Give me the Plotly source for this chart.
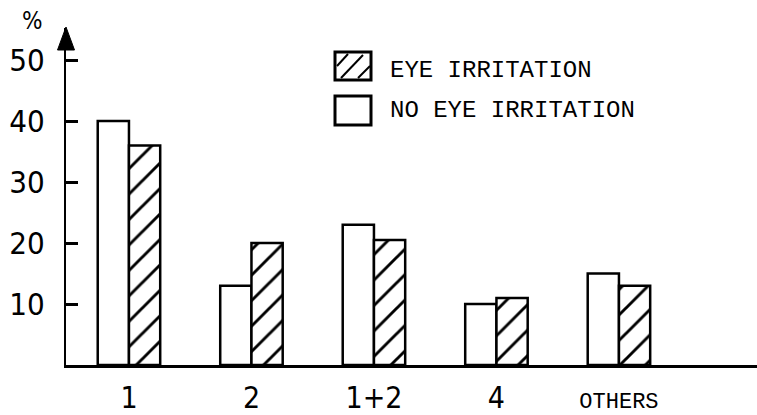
import plotly.graph_objects as go

# ---- data ----
categories = ["1", "2", "1+2", "4", "OTHERS"]
no_eye_irritation = [40, 13, 23, 10, 15]
eye_irritation = [36, 20, 20.5, 11, 13]
series_names = ["EYE IRRITATION", "NO EYE IRRITATION"]
y_ticks = [10, 20, 30, 40, 50]
y_unit_label = "%"

# ---- geometry helpers (figure pixels -> paper coords) ----
W, H = 757, 415
ML, MR, MT, MB = 66, 0, 28, 50
PW, PH = W - ML - MR, H - MT - MB


def px(xp):
    return (xp - ML) / PW


def py(yp):
    return (H - MB - yp) / PH


NUM_FONT = "Liberation Sans Narrow, DejaVu Sans Condensed, Liberation Sans, sans-serif"
TXT_FONT = "Liberation Mono, DejaVu Sans Mono, monospace"

fig = go.Figure()
fig.add_trace(go.Bar(
    x=categories, y=no_eye_irritation, name=series_names[1],
    marker=dict(color="white", line=dict(color="black", width=2.5)),
    showlegend=False,
))
fig.add_trace(go.Bar(
    x=categories, y=eye_irritation, name=series_names[0],
    marker=dict(color="white", line=dict(color="black", width=2.5),
                pattern=dict(shape="/", fgcolor="black", bgcolor="white",
                             size=18, solidity=0.16)),
    showlegend=False,
))

ticktext = [c if len(c) <= 3 else
            "<span style=\"font-family:'Liberation Mono';font-size:22px\">" + c + "</span>"
            for c in categories]

fig.update_layout(
    template="none",
    width=W, height=H,
    margin=dict(l=ML, r=MR, t=MT, b=MB, pad=0),
    paper_bgcolor="white", plot_bgcolor="white",
    barmode="group", bargap=0.49, bargroupgap=0,
    showlegend=False,
    xaxis=dict(
        type="category", range=[-0.514, 5.127], automargin=False,
        tickmode="array", tickvals=categories, ticktext=ticktext,
        showline=True, linecolor="black", linewidth=2.5,
        showgrid=False, zeroline=False, ticks="",
        tickfont=dict(family=NUM_FONT, size=30, color="black"),
        ticklabelstandoff=4,
    ),
    yaxis=dict(
        range=[0, 55.25], automargin=False,
        tickmode="array", tickvals=y_ticks,
        showline=True, linecolor="black", linewidth=2,
        showgrid=False, zeroline=False,
        ticks="inside", ticklen=12, tickwidth=2.5, tickcolor="black",
        tickfont=dict(family=NUM_FONT, size=31, color="black"),
        ticklabelstandoff=13,
    ),
)

shapes = []
# arrowhead on the y axis
shapes.append(dict(
    type="path", xref="paper", yref="paper",
    path=f"M {px(ML-8.5)},{py(50)} L {px(ML)},{py(27)} L {px(ML+8.5)},{py(50)} Z",
    fillcolor="black", line=dict(color="black", width=1),
))
# legend boxes
bx0, bx1 = 335, 371
rows = [(52, 80), (96, 125)]
for (y0, y1) in rows:
    shapes.append(dict(type="rect", xref="paper", yref="paper",
                       x0=px(bx0), x1=px(bx1), y0=py(y1), y1=py(y0),
                       fillcolor="white", line=dict(color="black", width=3)))
# hatch lines in first legend box
y0, y1 = rows[0]
for (xa, ya, xb, yb) in [(bx0 + 2, y0 + 14, bx0 + 13, y0 + 2),
                         (bx0 + 6, y1 - 2, bx0 + 28, y0 + 3),
                         (bx1 - 13, y1 - 2, bx1 - 1, y1 - 14)]:
    shapes.append(dict(type="line", xref="paper", yref="paper",
                       x0=px(xa), y0=py(ya), x1=px(xb), y1=py(yb),
                       line=dict(color="black", width=2)))
fig.update_layout(shapes=shapes)

annotations = [
    dict(text=series_names[0], x=px(388), y=py(71), xref="paper", yref="paper",
         xanchor="left", yanchor="middle", showarrow=False,
         font=dict(family=TXT_FONT, size=24, color="black")),
    dict(text=series_names[1], x=px(388), y=py(111), xref="paper", yref="paper",
         xanchor="left", yanchor="middle", showarrow=False,
         font=dict(family=TXT_FONT, size=24, color="black")),
    dict(text=y_unit_label, x=px(32), y=py(21), xref="paper", yref="paper",
         xanchor="center", yanchor="middle", showarrow=False,
         font=dict(family=NUM_FONT, size=24, color="black")),
]
fig.update_layout(annotations=annotations)

fig.write_html("out.html", config={"displayModeBar": False},
               post_script="document.body.style.margin='0';document.body.style.padding='0';")
